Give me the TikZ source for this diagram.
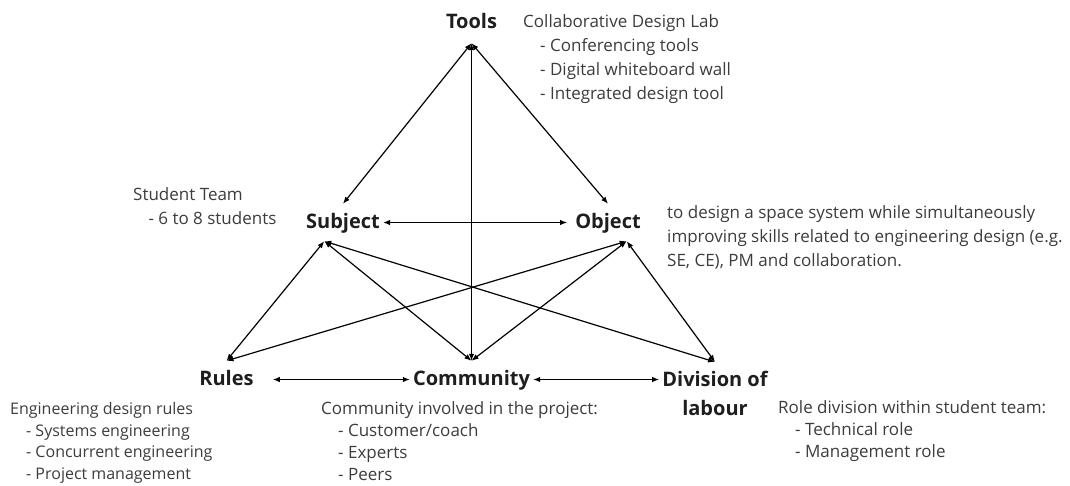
\documentclass[tikz,border=0pt]{standalone}
\usepackage{fontspec}
\setmainfont{Open Sans}
\usetikzlibrary{arrows.meta}
\definecolor{notegray}{HTML}{3C3C3C}
\definecolor{labelblack}{HTML}{1E1E1E}

\begin{document}
\begin{tikzpicture}[x=1pt, y=-1pt, >={Latex[length=7pt,width=5.5pt]},
  cornertext/.style={font=\bfseries\fontsize{20}{29}\selectfont, text=labelblack, inner xsep=3pt, inner ysep=9pt},
  corner/.style={cornertext, text height=15pt, text depth=4pt},
  note/.style={font=\fontsize{17}{24}\selectfont, text=notegray, align=left, anchor=north west, inner sep=0pt},
  lownote/.style={note, font=\fontsize{17}{22}\selectfont},
  link/.style={<->, line width=1.2pt}]
\useasboundingbox (0,0) rectangle (1070,485);
% corners:
\node[corner, inner ysep=11pt] (tools) at (471.5,22.5) {Tools};
\node[corner] (subject) at (343,222.5) {Subject};
\node[corner] (object) at (608,222.5) {Object};
\node[corner] (rules) at (226.5,379.5) {Rules};
\node[corner] (community) at (471.5,379.5) {Community};
\node[cornertext, align=center, anchor=north] (division) at (715,362) {Division of\\labour};
% notes:
\node[note] (toolsnote) at (523,14) {Collaborative Design Lab\\\hspace*{1em}- Conferencing tools\\\hspace*{1em}- Digital whiteboard wall\\\hspace*{1em}- Integrated design tool};
\node[note] (subjectnote) at (133,187) {Student Team\\\hspace*{0.9em}- 6 to 8 students};
\node[note] (objectnote) at (667,205) {to design a space system while simultaneously\\improving skills related to engineering design (e.g.\\SE, CE), PM and collaboration.};
\node[lownote, font=\fontsize{16}{21.7}\selectfont] (rulesnote) at (10,402) {Engineering design rules\\\hspace*{1em}- Systems engineering\\\hspace*{1em}- Concurrent engineering\\\hspace*{1em}- Project management};
\node[lownote] (communitynote) at (321,401) {Community involved in the project:\\\hspace*{1em}- Customer/coach\\\hspace*{1em}- Experts\\\hspace*{1em}- Peers};
\node[lownote] (divisionnote) at (778,400) {Role division within student team:\\\hspace*{1em}- Technical role\\\hspace*{1em}- Management role};
% upper triangle:
\draw[link] (tools.south) -- (subject.north);
\draw[link] (tools.south) -- (object.north);
\draw[link] (tools.south) -- (community.north);
\draw[link, shorten >=5pt] (subject.east) -- (object.west);
% lower triangle:
\draw[link] (subject.-135) -- (rules.north);
\draw[link] (subject.-135) -- (community.north);
\draw[link] (subject.-135) -- (division.north);
\draw[link] (object.-45) -- (rules.north);
\draw[link] (object.-45) -- (community.north);
\draw[link] (object.-45) -- (division.north);
\draw[link, shorten <=16pt] (rules) -- (community);
\draw[link] (community.east) -- (community.east -| division.west);
\end{tikzpicture}
\end{document}
